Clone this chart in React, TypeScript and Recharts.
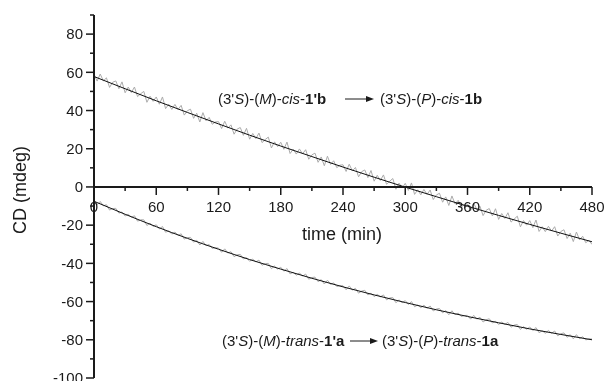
import React from 'react';
import { ComposedChart, Line, XAxis, YAxis, ReferenceLine, ReferenceDot, Customized } from 'recharts';

const dataTimes = [0,3,6,9,12,15,18,21,24,27,30,33,36,39,42,45,48,51,54,57,60,63,66,69,72,75,78,81,84,87,90,93,96,99,102,105,108,111,114,117,120,123,126,129,132,135,138,141,144,147,150,153,156,159,162,165,168,171,174,177,180,183,186,189,192,195,198,201,204,207,210,213,216,219,222,225,228,231,234,237,240,243,246,249,252,255,258,261,264,267,270,273,276,279,282,285,288,291,294,297,300,303,306,309,312,315,318,321,324,327,330,333,336,339,342,345,348,351,354,357,360,363,366,369,372,375,378,381,384,387,390,393,396,399,402,405,408,411,414,417,420,423,426,429,432,435,438,441,444,447,450,453,456,459,462,465,468,471,474,477,480];

const cisMeasured = [
  59.0,55.4,59.1,55.5,57.1,52.1,54.8,55.5,51.4,55.0,
  49.3,52.3,49.4,52.3,47.3,48.8,50.0,44.3,47.5,44.8,
  47.1,43.3,47.1,41.0,43.3,40.6,43.2,40.5,42.7,37.6,
  39.9,40.7,35.9,38.6,34.0,38.9,34.6,36.4,32.8,34.0,
  34.2,30.6,34.4,30.8,32.5,27.6,30.3,31.1,27.0,30.7,
  25.0,28.0,25.3,28.2,23.2,24.8,26.1,20.4,23.6,21.1,
  23.4,19.7,23.5,17.5,19.8,17.2,19.9,17.3,19.5,14.5,
  16.8,17.7,12.9,15.7,11.1,16.1,11.8,13.7,10.1,11.4,
  11.6,8.1,11.9,8.4,10.2,5.3,8.0,8.9,4.9,8.6,
  3.0,6.1,3.4,6.3,1.4,3.0,4.4,-1.2,2.0,-0.5,
  1.9,-1.8,2.1,-3.9,-1.5,-4.1,-1.3,-3.9,-1.6,-6.6,
  -4.2,-3.3,-8.0,-5.2,-9.7,-4.7,-8.9,-7.0,-10.5,-9.2,
  -8.9,-12.4,-8.5,-11.9,-10.1,-15.0,-12.2,-11.3,-15.2,-11.4,
  -17.0,-13.9,-16.5,-13.5,-18.4,-16.8,-15.3,-20.9,-17.6,-20.0,
  -17.6,-21.3,-17.3,-23.3,-20.8,-23.4,-20.6,-23.1,-20.8,-25.7,
  -23.3,-22.4,-27.0,-24.2,-28.6,-23.6,-27.7,-25.8,-29.2,-27.9,
  -30.1
];

const transMeasured = [
  -6.9,-9.3,-7.6,-9.9,-9.3,-12.1,-11.3,-11.2,-13.7,-13.1,
  -15.2,-14.3,-15.8,-15.1,-17.9,-17.2,-17.2,-20.2,-18.9,-20.7,
  -19.8,-22.0,-20.7,-23.7,-23.0,-24.7,-23.6,-25.4,-24.5,-27.3,
  -26.5,-26.4,-28.9,-27.9,-30.4,-28.5,-30.8,-30.1,-32.2,-31.8,
  -32.0,-34.2,-32.4,-34.6,-33.9,-36.5,-35.5,-35.3,-37.7,-37.0,
  -38.9,-37.8,-39.2,-38.3,-41.0,-40.1,-40.0,-42.8,-41.4,-43.0,
  -42.0,-44.1,-42.7,-45.5,-44.7,-46.2,-45.0,-46.7,-45.6,-48.3,
  -47.4,-47.2,-49.6,-48.5,-50.8,-48.8,-51.0,-50.2,-52.1,-51.7,
  -51.7,-53.8,-51.8,-54.0,-53.1,-55.6,-54.5,-54.1,-56.5,-55.6,
  -57.4,-56.2,-57.5,-56.5,-59.1,-58.1,-57.9,-60.6,-59.1,-60.6,
  -59.5,-61.5,-60.0,-62.7,-61.8,-63.2,-61.9,-63.5,-62.3,-64.9,
  -63.9,-63.6,-65.9,-64.7,-66.9,-64.8,-66.9,-66.0,-67.8,-67.3,
  -67.2,-69.2,-67.2,-69.2,-68.2,-70.7,-69.5,-69.0,-71.2,-70.3,
  -72.0,-70.7,-71.9,-70.9,-73.4,-72.3,-72.0,-74.6,-73.1,-74.5,
  -73.3,-75.2,-73.6,-76.3,-75.3,-76.6,-75.1,-76.6,-75.4,-77.9,
  -76.8,-76.4,-78.7,-77.3,-79.5,-77.3,-79.4,-78.4,-80.1,-79.5,
  -79.6
];

const fitTimes = [0,30,60,90,120,150,180,210,240,270,300,330,360,390,420,450,480];
const cisFit = [57.8,51.4,45.1,39.0,33.0,27.1,21.4,15.9,10.4,5.1,-0.1,-5.1,-10.1,-14.9,-19.6,-24.2,-28.7];
const transFit = [-7.5,-14.3,-20.8,-26.9,-32.6,-38.0,-43.0,-47.8,-52.3,-56.5,-60.5,-64.3,-67.8,-71.1,-74.3,-77.2,-80.0];

const xTicks = [0,30,60,90,120,150,180,210,240,270,300,330,360,390,420,450,480];
const yTicks = [-100,-90,-80,-70,-60,-50,-40,-30,-20,-10,0,10,20,30,40,50,60,70,80,90];

const FONT = '"Liberation Sans", Arial, Helvetica, sans-serif';
const INK = '#1a1a1a';
const NOISE = '#ababab';

const cisMeasuredData = dataTimes.map((t, i) => ({ t, v: cisMeasured[i] }));
const transMeasuredData = dataTimes.map((t, i) => ({ t, v: transMeasured[i] }));
const cisFitData = fitTimes.map((t, i) => ({ t, v: cisFit[i] }));
const transFitData = fitTimes.map((t, i) => ({ t, v: transFit[i] }));

const YTick = (props: any) => {
  const { x, y, payload } = props;
  const v = payload.value;
  const major = v % 20 === 0;
  return (
    <g>
      <line x1={x - (major ? 8 : 4)} x2={x} y1={y} y2={y} stroke={INK} strokeWidth={1.5} />
      {major && (
        <text x={x - 11} y={y} dy={5.3} textAnchor="end" fontSize={15} fill={INK} fontFamily={FONT}>
          {v}
        </text>
      )}
    </g>
  );
};

const XTickMark = (props: any) => {
  const { cx, cy, value } = props;
  const major = value % 60 === 0;
  return (
    <g>
      <line x1={cx} x2={cx} y1={cy} y2={cy + (major ? 8 : 4)} stroke={INK} strokeWidth={1.5} />
      {major && (
        <text x={cx} y={cy + 25} textAnchor="middle" fontSize={15} fill={INK} fontFamily={FONT}>
          {value}
        </text>
      )}
    </g>
  );
};

const Arrow = ({ x1, x2, y }: { x1: number; x2: number; y: number }) => (
  <g>
    <line x1={x1} x2={x2 - 5} y1={y} y2={y} stroke={INK} strokeWidth={1} />
    <polygon points={`${x2},${y} ${x2 - 8},${y - 3} ${x2 - 8},${y + 3}`} fill={INK} />
  </g>
);

const Annotations = () => (
  <g fontFamily={FONT} fill={INK}>
    <text x={12} y={182} fontSize={18} textAnchor="middle" dominantBaseline="central" transform="rotate(-90,12,182)">
      CD (mdeg)
    </text>
    <text x={334} y={232} fontSize={18} textAnchor="middle">time (min)</text>

    <text x={210} y={96} fontSize={15}>
      (3'<tspan fontStyle="italic">S</tspan>)-(<tspan fontStyle="italic">M</tspan>)-<tspan fontStyle="italic">cis</tspan>-<tspan fontWeight="bold">1'b</tspan>
    </text>
    <Arrow x1={337} x2={366} y={91} />
    <text x={372} y={96} fontSize={15}>
      (3'<tspan fontStyle="italic">S</tspan>)-(<tspan fontStyle="italic">P</tspan>)-<tspan fontStyle="italic">cis</tspan>-<tspan fontWeight="bold">1b</tspan>
    </text>

    <text x={214} y={338} fontSize={15}>
      (3'<tspan fontStyle="italic">S</tspan>)-(<tspan fontStyle="italic">M</tspan>)-<tspan fontStyle="italic">trans</tspan>-<tspan fontWeight="bold">1'a</tspan>
    </text>
    <Arrow x1={342} x2={370} y={333} />
    <text x={374} y={338} fontSize={15}>
      (3'<tspan fontStyle="italic">S</tspan>)-(<tspan fontStyle="italic">P</tspan>)-<tspan fontStyle="italic">trans</tspan>-<tspan fontWeight="bold">1a</tspan>
    </text>
  </g>
);

export default function App() {
  return (
    <div style={{ position: 'fixed', left: 8, top: 8, width: 597, height: 373 }}>
      <ComposedChart width={597} height={373} margin={{ top: 7, right: 13, bottom: 3, left: 0 }}>
        <XAxis dataKey="t" type="number" domain={[0, 480]} ticks={xTicks} hide allowDataOverflow />
        <YAxis
          type="number"
          domain={[-100, 90]}
          ticks={yTicks}
          width={86}
          tickSize={0}
          tickMargin={0}
          tickLine={false}
          axisLine={{ stroke: INK, strokeWidth: 2 }}
          tick={<YTick />}
          interval={0}
          allowDataOverflow
        />
        <Line data={cisMeasuredData} dataKey="v" type="linear" stroke={NOISE} strokeWidth={1} dot={false} isAnimationActive={false} />
        <Line data={transMeasuredData} dataKey="v" type="linear" stroke={NOISE} strokeWidth={1} dot={false} isAnimationActive={false} />
        <Line data={cisFitData} dataKey="v" type="monotone" stroke="#111" strokeWidth={1} dot={false} isAnimationActive={false} />
        <Line data={transFitData} dataKey="v" type="monotone" stroke="#111" strokeWidth={1} dot={false} isAnimationActive={false} />
        <ReferenceLine y={0} stroke={INK} strokeWidth={2} />
        {xTicks.map((t) => (
          <ReferenceDot key={t} x={t} y={0} r={1} shape={(p: any) => <XTickMark {...p} value={t} />} />
        ))}
        <Customized component={Annotations} />
      </ComposedChart>
    </div>
  );
}
